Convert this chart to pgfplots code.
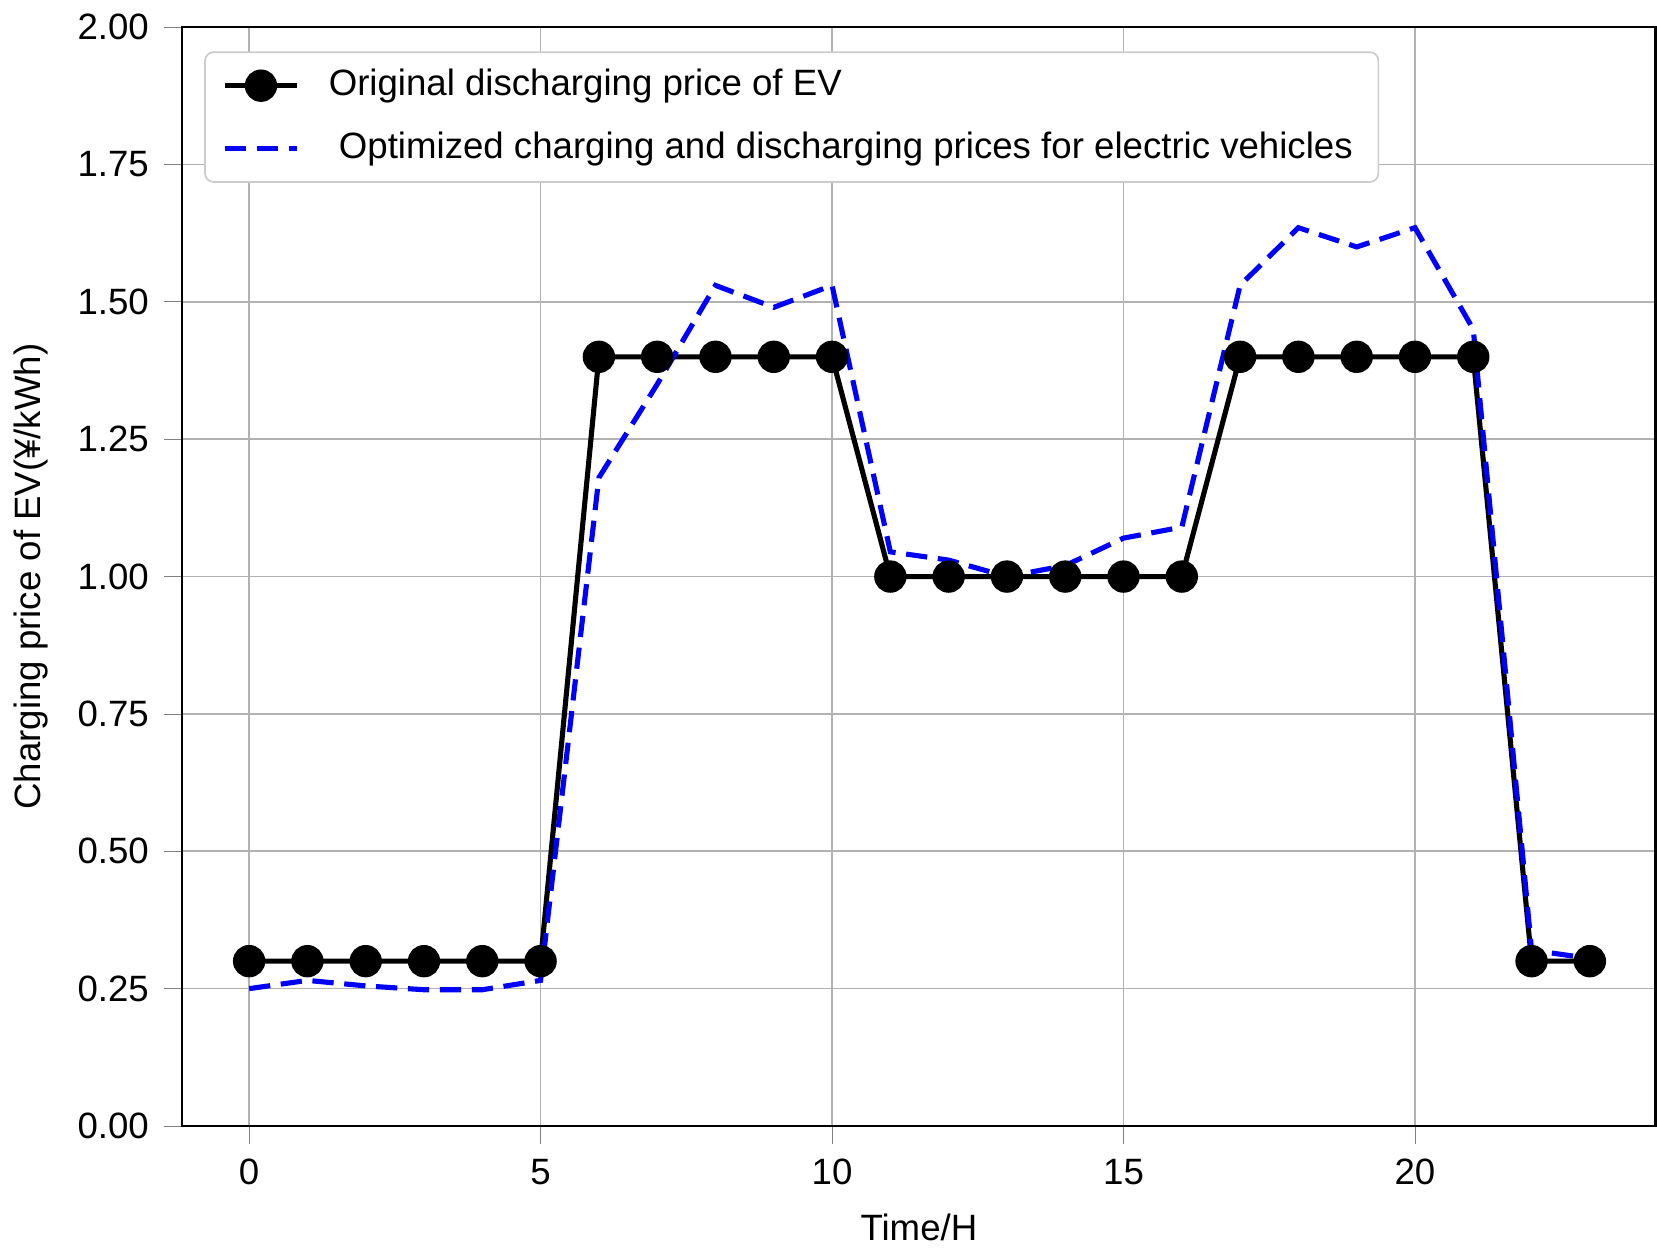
\documentclass[border=0pt]{standalone}
\usepackage{pgfplots}
\pgfplotsset{compat=1.18}
\usepackage{fontspec}
\setmainfont{Liberation Sans}
\begin{document}
\begin{tikzpicture}
\begin{axis}[
  scale only axis, width=346pt, height=258pt,
  xmin=-1.15, xmax=24.13, ymin=0, ymax=2,
  xtick={0,5,10,15,20},
  ytick={0,0.25,0.5,0.75,1,1.25,1.5,1.75,2},
  xtick pos=bottom, ytick pos=left,
  yticklabel style={/pgf/number format/.cd,fixed,fixed zerofill,precision=2},
  /pgf/number format/assume math mode=true,
  grid=major, grid style={gray!60},
  tick align=outside,
  axis line style={line width=0.6pt},
  font=\fontsize{8.6}{10.5}\selectfont,
  xlabel={Time/H}, ylabel={Charging price of EV(¥/kWh)},
  legend style={at={(0.015,0.978)},anchor=north west,draw=gray!40,rounded corners=2pt,font=\fontsize{8.6}{10.5}\selectfont,row sep=3pt,inner xsep=4pt},
  legend cell align=left,
  legend image post style={sharp plot},
]
\addplot[black,line width=1.2pt,mark=*,mark size=3.2pt] coordinates {
(0,0.3)(1,0.3)(2,0.3)(3,0.3)(4,0.3)(5,0.3)(6,1.4)(7,1.4)(8,1.4)(9,1.4)(10,1.4)
(11,1)(12,1)(13,1)(14,1)(15,1)(16,1)(17,1.4)(18,1.4)(19,1.4)(20,1.4)(21,1.4)(22,0.3)(23,0.3)};
\addlegendentry{\ \ Original discharging price of EV}
\addplot[blue,line width=1.2pt,dash pattern=on 5pt off 2.5pt] coordinates {
(0,0.25)(1,0.265)(2,0.255)(3,0.248)(4,0.248)(5,0.265)(6,1.18)(7,1.35)(8,1.53)(9,1.49)(10,1.53)
(11,1.045)(12,1.03)(13,1.0)(14,1.02)(15,1.07)(16,1.09)(17,1.53)(18,1.635)(19,1.60)(20,1.635)(21,1.45)(22,0.32)(23,0.305)};
\addlegendentry{\ \ \ Optimized charging and discharging prices for electric vehicles}
\end{axis}
\end{tikzpicture}
\end{document}
